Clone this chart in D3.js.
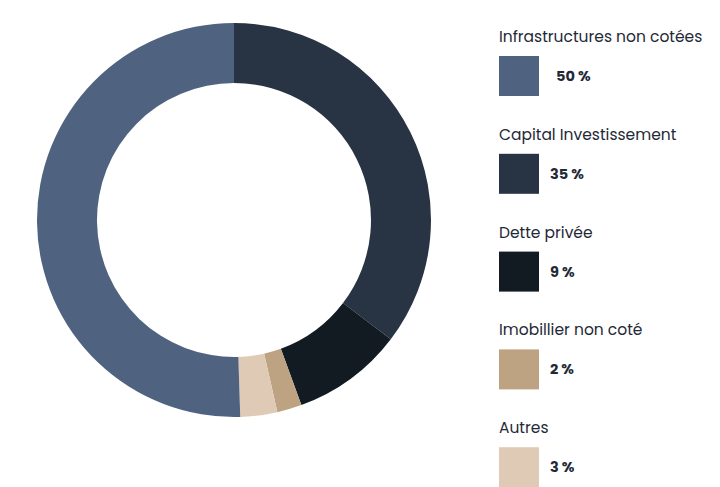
<!DOCTYPE html>
<html><head><meta charset="utf-8">
<script src="https://cdn.jsdelivr.net/npm/d3@7"></script>
<style>body{margin:0;background:#fff}</style>
</head><body>
<svg width="720" height="487"></svg>
<script>
let labels = ["Infrastructures non cotées", "Capital Investissement", "Dette privée", "Imobillier non coté", "Autres"];
let values = [50, 35, 9, 2, 3];
let pctLabels = ["50 %", "35 %", "9 %", "2 %", "3 %"];
let colors = ["#4f6380", "#283343", "#121a22", "#bea382", "#dfcbb5"];
// clockwise drawing order from top
let order = [1, 2, 3, 4, 0];

const svg = d3.select("svg");
const defs = svg.append("defs");
const f = defs.append("filter").attr("id", "sh").attr("x", "-20%").attr("y", "-20%").attr("width", "140%").attr("height", "140%");
f.append("feDropShadow").attr("dx", 0).attr("dy", 4).attr("stdDeviation", 6).attr("flood-color", "#000").attr("flood-opacity", 0.12);

const g = svg.append("g").attr("transform", "translate(234,220)");
const pie = d3.pie().sort(null).value(i => values[i]);
const arc = d3.arc().innerRadius(137).outerRadius(197);
g.append("circle").attr("r", 137).attr("fill", "#fff").attr("filter", "url(#sh)");
g.selectAll("path").data(pie(order)).enter().append("path")
  .attr("d", arc).attr("fill", d => colors[d.data]);

//legend
const lg = svg.append("g").attr("font-family", "Poppins, Inter, sans-serif");
labels.forEach((l, i) => {
  let y0 = 36 + i * 97.8;
  lg.append("text").attr("x", 499).attr("y", y0 + 6).attr("font-size", 15.5).attr("fill", "#1f2937").text(l);
  lg.append("rect").attr("x", 499).attr("y", y0 + 20).attr("width", 40).attr("height", 40).attr("fill", colors[i]);
  lg.append("text").attr("x", i == 0 ? 556 : 550).attr("y", y0 + 45).attr("font-size", 14.5).attr("font-weight", "bold").attr("fill", "#1f2937").text(pctLabels[i]);
});
</script>
</body></html>
